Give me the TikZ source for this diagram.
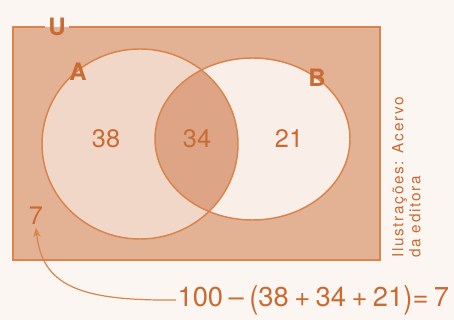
\documentclass[tikz,border=0pt]{standalone}
\usepackage{fontspec}
\setmainfont{TeX Gyre Heros}
\usetikzlibrary{arrows.meta}
\definecolor{pagebg}{HTML}{FBF6F2}
\definecolor{ufill}{HTML}{E3B193}
\definecolor{afill}{HTML}{F1D7C7}
\definecolor{bfill}{HTML}{F9EEE8}
\definecolor{abfill}{HTML}{DDA585}
\definecolor{vennline}{HTML}{D9834D}
\definecolor{venntext}{HTML}{C96B33}
\newcommand{\tallparen}[1]{\raisebox{-1pt}{\scalebox{1}[1.15]{#1}}}

\begin{document}
\begin{tikzpicture}[x=0.75pt, y=-0.75pt, >=Stealth,
    setlbl/.style={text=venntext, font=\fontsize{18}{20}\selectfont\bfseries, inner sep=2pt},
    countlbl/.style={text=venntext, font=\fontsize{19}{22}\selectfont, inner sep=2pt},
    creditlbl/.style={text=venntext, font=\fontsize{11.5}{13}\selectfont\addfontfeature{LetterSpace=11}, rotate=90, anchor=north west, inner sep=0pt},
    vennedge/.style={draw=vennline, line width=1.1pt}]
    \useasboundingbox (0,0) rectangle (454,320);
    \fill[pagebg] (0,0) rectangle (454,320);
    \fill[ufill] (13,27) rectangle (380,260);
    \fill[afill] (140,144) ellipse [x radius=98, y radius=95];
    \fill[bfill] (252.5,139) ellipse [x radius=97.5, y radius=81];
    \begin{scope}
        \clip (140,144) ellipse [x radius=98, y radius=95];
        \fill[abfill] (252.5,139) ellipse [x radius=97.5, y radius=81];
    \end{scope}
    \draw[vennedge] (140,144) ellipse [x radius=98, y radius=95];
    \draw[vennedge] (252.5,139) ellipse [x radius=97.5, y radius=81];

    \node[setlbl] (Ulbl) at (57,27) {U};
    \draw[vennedge] (Ulbl.east) -| (380,260) -| (13,27) -- (Ulbl.west);
    \node[setlbl] (Albl) at (78,72) {A};
    \node[setlbl] (Blbl) at (317,78) {B};

    \node[countlbl] (onlyA) at (106,139) {38};
    \node[countlbl] (both) at (197,139) {34};
    \node[countlbl] (onlyB) at (289,139) {21};
    \node[countlbl] (outside) at (36,216) {7};

    \node[text=venntext, font=\fontsize{20.5}{25}\selectfont, anchor=west, inner sep=1pt] (calc) at (176,300)
        {\spaceskip=0.2em 100 – \tallparen{(}38 + 34 + 21\tallparen{)}= 7};
    \draw[->, draw=vennline, line width=0.9pt] (calc.west) .. controls (80,301) and (42,286) .. (outside.south);

    \node[creditlbl] (credit1) at (392,258) {Ilustrações: Acervo};
    \node[creditlbl] (credit2) at (409,258) {da editora};
\end{tikzpicture}
\end{document}
